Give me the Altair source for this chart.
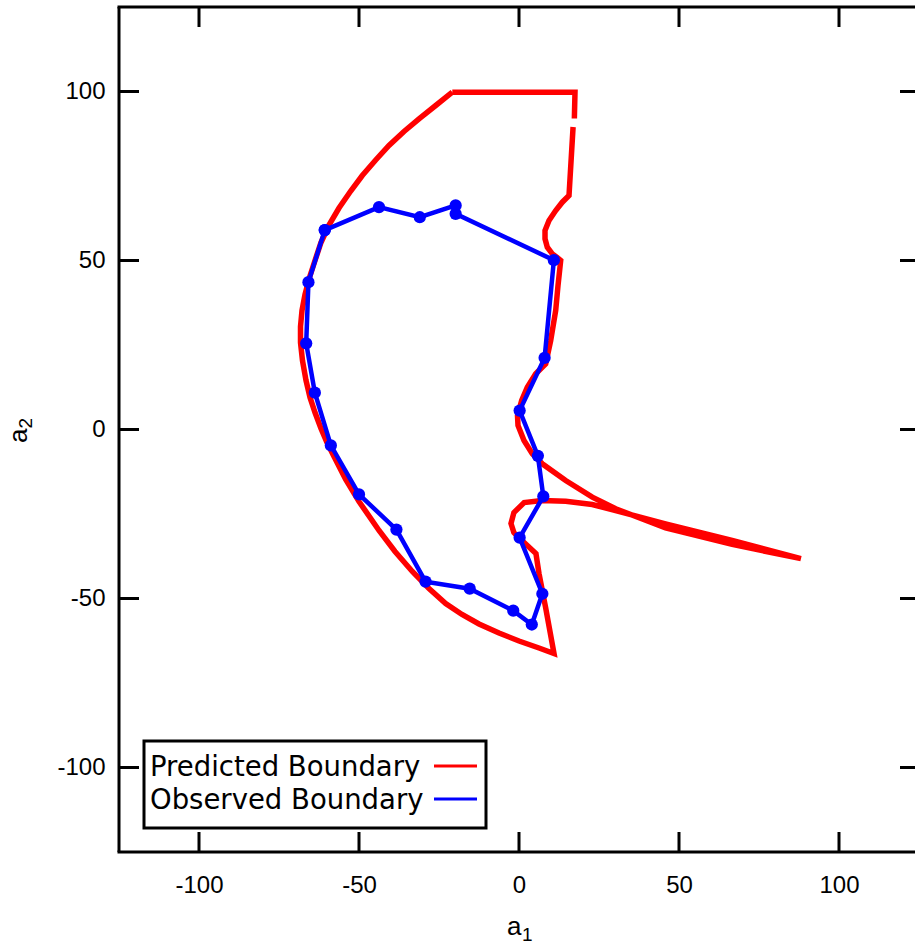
import altair as alt
import pandas as pd

# ---------------- data ----------------
# Predicted boundary, segment 1 (top edge, before the small break)
pred1_a1 = [-20.84, 17.5, 17.3]
pred1_a2 = [99.8, 99.8, 92.0]

# Predicted boundary, segment 2 (rest of the closed curve)
pred2_a1 = [16.9, 15.63, 13.53, 11.47, 9.38, 8.13, 8.13, 8.84, 10.41, 11.88, 13.03,
            12.19, 11.47, 9.91, 8.34, 5.22, 2.59, 0.84, -0.47, -0.31, 1.56, 4.16,
            7.28, 14.59, 22.91, 30.22, 45.8, 66.6, 88.1,
            66.6, 45.8, 30.2, 22.9, 14.6, 7.2, 1.6, -1.6, -2.5, -1.6, 0.0, 5.3, 6.25, 8.3,
            10.94, 6.25, 0.0, -6.25, -12.5, -17.81, -22.91, -28.13, -33.34, -38.75, -43.75,
            -50.0, -54.16, -57.81, -60.0, -61.88, -63.75, -65.31, -66.56, -67.66, -68.28,
            -68.28, -67.81, -66.88, -65.47, -63.75, -61.88, -59.38, -56.25, -52.59, -48.97,
            -44.78, -40.63, -35.94, -31.25, -26.03, -20.84]
pred2_a2 = [89.5, 69.23, 67.25, 64.79, 61.83, 58.88, 56.42, 53.94, 51.98, 50.89, 50.0,
            42.6, 35.21, 26.33, 19.44, 16.48, 12.51, 8.58, 4.14, 1.18, -3.25, -7.19,
            -10.15, -15.09, -20.03, -23.46, -29.1, -34.0, -38.2,
            -32.8, -27.9, -24.0, -22.2, -21.2, -21.0, -21.6, -24.6, -27.8, -30.5, -32.0, -36.7, -42.6, -52.6,
            -66.27, -64.64, -62.57, -60.21, -57.54, -54.73, -51.48, -47.04, -42.01, -36.09, -29.88,
            -21.30, -14.79, -7.99, -3.85, 0.30, 5.03, 9.47, 14.50, 20.41, 25.74,
            30.47, 35.21, 39.94, 44.97, 50.0, 55.33, 60.50, 65.53, 70.56, 75.15,
            79.73, 84.02, 88.17, 91.92, 95.86, 99.8]

# Observed boundary (closed polygon with markers)
obs_a1 = [-60.7, -43.75, -31.0, -19.8, -19.8, 10.9, 8.0, 0.2, 5.9, 7.6, 0.2, 7.3, 4.0,
          -1.8, -15.4, -29.2, -38.3, -50.0, -58.8, -63.8, -66.5, -65.8, -60.7]
obs_a2 = [59.0, 65.8, 62.8, 66.3, 63.8, 50.1, 21.2, 5.6, -7.8, -19.8, -32.0, -48.6, -57.7,
          -53.6, -47.1, -45.0, -29.6, -19.2, -4.7, 10.9, 25.5, 43.6, 59.0]

tick_values = [-100, -50, 0, 50, 100]
legend_labels = ["Predicted Boundary", "Observed Boundary"]
legend_colors = ["#ff0000", "#0000ff"]
x_title = ("a", "1")
y_title = ("a", "2")

# ---------------- tables ----------------
pred_df = pd.concat([
    pd.DataFrame({"a1": pred1_a1, "a2": pred1_a2, "seg": "s1", "i": range(len(pred1_a1))}),
    pd.DataFrame({"a1": pred2_a1, "a2": pred2_a2, "seg": "s2", "i": range(len(pred2_a1))}),
], ignore_index=True)
obs_df = pd.DataFrame({"a1": obs_a1, "a2": obs_a2, "i": range(len(obs_a1))})
tick_df = pd.DataFrame({"v": tick_values})
one = pd.DataFrame({"k": [0]})

# plot area: 3.2 px per unit in x (right frame falls just outside the window)
W, H = 796, 845
FONT = "Liberation Sans"

xscale = alt.Scale(domain=[-125, 123.75], nice=False, zero=False)
yscale = alt.Scale(domain=[-125, 125], nice=False, zero=False)

xaxis = alt.Axis(values=tick_values, grid=False, domain=False, ticks=False, tickSize=0,
                 labelFont=FONT, labelFontSize=24, labelColor="black", labelPadding=21,
                 labelExpr="'' + datum.value", title=None)
yaxis = alt.Axis(values=tick_values, grid=False, domain=False, ticks=False, tickSize=0,
                 labelFont=FONT, labelFontSize=24, labelColor="black", labelPadding=14,
                 labelExpr="'' + datum.value", title=None)

pred = alt.Chart(pred_df).mark_line(color="#ff0000", strokeWidth=5.5).encode(
    x=alt.X("a1:Q", scale=xscale, axis=xaxis),
    y=alt.Y("a2:Q", scale=yscale, axis=yaxis),
    detail="seg:N",
    order="i:Q",
)

obs = alt.Chart(obs_df).mark_line(
    color="#0000ff", strokeWidth=4.5,
    point=alt.OverlayMarkDef(filled=True, size=150, color="#0000ff", opacity=1),
).encode(
    x=alt.X("a1:Q", scale=xscale, axis=xaxis),
    y=alt.Y("a2:Q", scale=yscale, axis=yaxis),
    order="i:Q",
)

# inward ticks on all four sides
tick_style = dict(color="black", strokeWidth=3)
xt_bottom = alt.Chart(tick_df).mark_rule(**tick_style).encode(
    x=alt.X("v:Q", scale=xscale, axis=xaxis), y=alt.value(H - 20), y2=alt.value(H))
xt_top = alt.Chart(tick_df).mark_rule(**tick_style).encode(
    x=alt.X("v:Q", scale=xscale, axis=xaxis), y=alt.value(0), y2=alt.value(20))
yt_left = alt.Chart(tick_df).mark_rule(**tick_style).encode(
    y=alt.Y("v:Q", scale=yscale, axis=yaxis), x=alt.value(0), x2=alt.value(20))
yt_right = alt.Chart(tick_df).mark_rule(**tick_style).encode(
    y=alt.Y("v:Q", scale=yscale, axis=yaxis), x=alt.value(W - 15), x2=alt.value(W))

# frame: left, top, bottom (right side lies beyond the window edge)
frame_style = dict(color="black", strokeWidth=3)
f_left = alt.Chart(one).mark_rule(**frame_style).encode(
    x=alt.value(0), y=alt.value(0), y2=alt.value(H))
f_top = alt.Chart(one).mark_rule(**frame_style).encode(
    x=alt.value(-1.5), x2=alt.value(W), y=alt.value(0))
f_bottom = alt.Chart(one).mark_rule(**frame_style).encode(
    x=alt.value(-1.5), x2=alt.value(W), y=alt.value(H))

# axis titles with gnuplot-style subscripts
title_layers = [
    alt.Chart(one).mark_text(text=x_title[0], font=FONT, fontSize=26, color="black",
                             align="left", baseline="alphabetic").encode(
        x=alt.value(388), y=alt.value(928)),
    alt.Chart(one).mark_text(text=x_title[1], font=FONT, fontSize=19, color="black",
                             align="left", baseline="alphabetic").encode(
        x=alt.value(403), y=alt.value(934)),
    alt.Chart(one).mark_text(text=y_title[0], font=FONT, fontSize=26, color="black",
                             align="left", baseline="alphabetic", angle=270).encode(
        x=alt.value(-92), y=alt.value(436)),
    alt.Chart(one).mark_text(text=y_title[1], font=FONT, fontSize=19, color="black",
                             align="left", baseline="alphabetic", angle=270).encode(
        x=alt.value(-87), y=alt.value(421.5)),
]

# legend box (gnuplot style: label, then line sample)
leg_box = alt.Chart(one).mark_rect(fill="white", stroke="black", strokeWidth=3).encode(
    x=alt.value(25), x2=alt.value(367), y=alt.value(734), y2=alt.value(821))
leg_layers = [leg_box]
for k, (lab, col) in enumerate(zip(legend_labels, legend_colors)):
    yb = 769 + 33 * k
    leg_layers.append(
        alt.Chart(one).mark_text(text=lab, font="DejaVu Sans", fontSize=27.5, color="black",
                                 align="left", baseline="alphabetic").encode(
            x=alt.value(31), y=alt.value(yb)))
    leg_layers.append(
        alt.Chart(one).mark_rule(color=col, strokeWidth=3).encode(
            x=alt.value(315), x2=alt.value(358), y=alt.value(yb - 10)))

chart = alt.layer(pred, obs, xt_bottom, xt_top, yt_left, yt_right,
                  f_left, f_top, f_bottom, *title_layers, *leg_layers).properties(
    width=W, height=H,
    autosize=alt.AutoSizeParams(type="none"),
    padding={"left": 119, "top": 7, "right": 0, "bottom": 93},
    background="white",
).configure_view(stroke=None)

chart.save("out.html", embed_options={"renderer": "svg", "actions": False})
